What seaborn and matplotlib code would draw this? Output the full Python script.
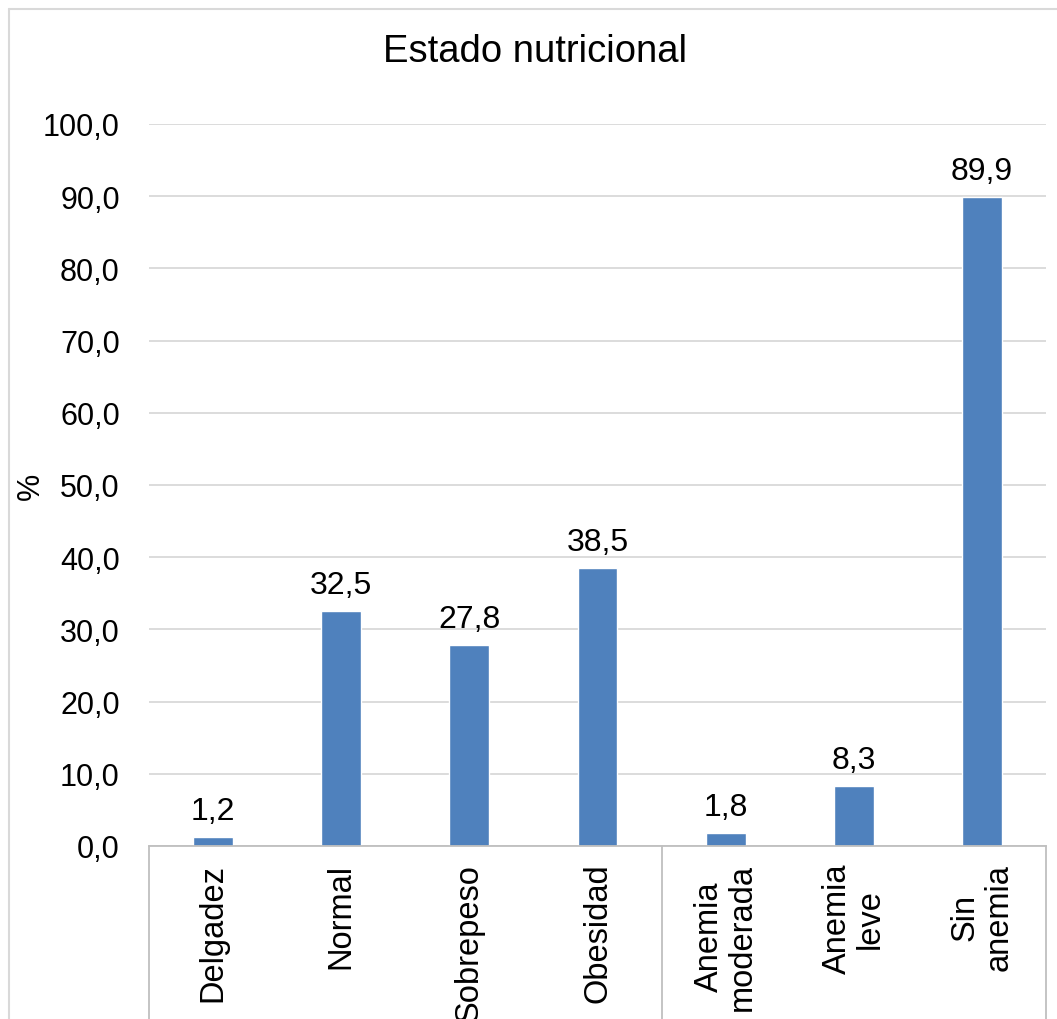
import matplotlib
matplotlib.use("Agg")
import matplotlib.pyplot as plt
import seaborn as sns
import pandas as pd
from matplotlib.lines import Line2D

categories = ["Delgadez", "Normal", "Sobrepeso", "Obesidad",
              "Anemia\nmoderada", "Anemia\nleve", "Sin\nanemia"]
values = [1.2, 32.5, 27.8, 38.5, 1.8, 8.3, 89.9]
yticks = [0, 10, 20, 30, 40, 50, 60, 70, 80, 90, 100]
title = "Estado nutricional"
ylabel = "%"

sns.set_theme(style="white")
plt.rcParams['font.family'] = ['Liberation Sans', 'DejaVu Sans']
plt.rcParams['text.color'] = 'black'
plt.rcParams['axes.labelcolor'] = 'black'
plt.rcParams['xtick.color'] = 'black'
plt.rcParams['ytick.color'] = 'black'

W, H = 1057, 1020
fig = plt.figure(figsize=(W / 100, H / 100), dpi=100)
ax = fig.add_axes([149 / W, 1 - 847 / H, (1046 - 149) / W, (847 - 125) / H])

df = pd.DataFrame({"cat": categories, "val": values})
sns.barplot(data=df, x="cat", y="val", color="#4F81BD", saturation=1,
            width=0.31, ax=ax, zorder=3)

ax.set_ylim(0, 100)
ax.set_xlim(-0.5, len(categories) - 0.5)
ax.set_yticks(yticks)
ax.set_yticklabels([f"{v:.1f}".replace(".", ",") for v in yticks], fontsize=22)
ax.yaxis.grid(True, color="#d9d9d9", linewidth=1.3, zorder=0)
ax.xaxis.grid(False)
for s in ["top", "right", "left"]:
    ax.spines[s].set_visible(False)
ax.spines["bottom"].set_color("#bfbfbf")
ax.spines["bottom"].set_linewidth(1.3)
ax.spines["bottom"].set_zorder(4)
ax.tick_params(axis="y", length=0, pad=21)
ax.tick_params(axis="x", length=0, pad=12)
ax.set_xticks(range(len(categories)))
ax.set_xticklabels(categories, rotation=90, fontsize=23.5, va="top",
                   ha="center", multialignment="center", linespacing=1.1)
ax.set_xlabel("")
ax.set_ylabel(ylabel, fontsize=22)
ax.yaxis.set_label_coords((46 - 149) / (1046 - 149), 0.5)

for c in ax.containers:
    ax.bar_label(c, labels=[f"{v:.1f}".replace(".", ",") for v in values],
                 fontsize=23, padding=8)

# group divider lines below the axis
for xd in [-0.5, 3.5, 6.5]:
    ax.add_line(Line2D([xd, xd], [0, -0.35], transform=ax.get_xaxis_transform(),
                       color="#bfbfbf", linewidth=1.3, clip_on=False))

fig.text(535 / W, 1 - 52 / H, title, ha="center", va="center", fontsize=27.5)

# chart area border (top and left edges visible)
bx, by = 8.5 / W, 1 - 9.5 / H
fig.add_artist(Line2D([bx, 1.0], [by, by], transform=fig.transFigure,
                      color="#d9d9d9", linewidth=1.5))
fig.add_artist(Line2D([bx, bx], [0.0, by], transform=fig.transFigure,
                      color="#d9d9d9", linewidth=1.5))

fig.savefig("out.png", dpi=100)
